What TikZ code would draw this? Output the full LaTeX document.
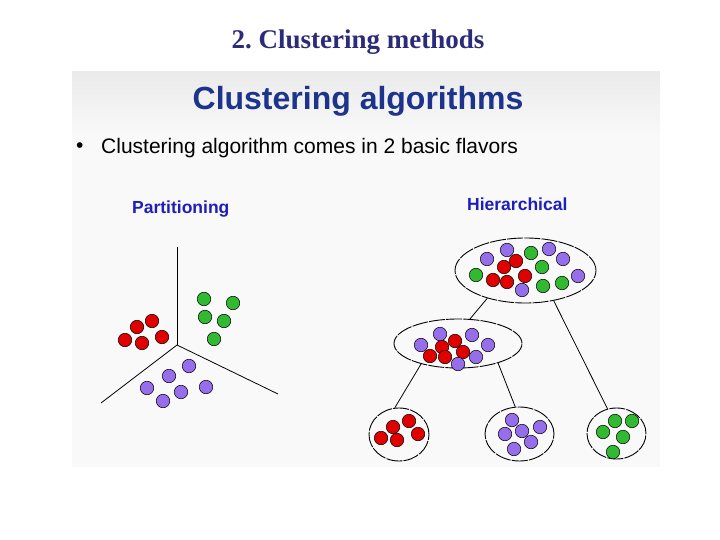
\documentclass[tikz,border=0pt]{standalone}
\usepackage{fontspec}
\setmainfont{Liberation Serif}
\newfontfamily\arialfont{Liberation Sans}
\usetikzlibrary{shapes.geometric}

\definecolor{titlenavy}{RGB}{43,43,122}
\definecolor{headblue}{RGB}{28,52,140}
\definecolor{labelblue}{RGB}{30,30,185}
\definecolor{dotred}{RGB}{225,0,0}
\definecolor{dotgreen}{RGB}{50,185,50}
\definecolor{dotpurple}{RGB}{150,110,235}

\begin{document}
\begin{tikzpicture}[
    x=1pt, y=-1pt,
    dot/.style={circle, draw=black, line width=0.5pt, minimum size=13.5pt, inner sep=0pt},
    rdot/.style={dot, fill=dotred},
    gdot/.style={dot, fill=dotgreen},
    pdot/.style={dot, fill=dotpurple},
    group/.style={ellipse, draw=black, line width=0.9pt, dash pattern=on 16pt off 1.2pt, inner sep=0pt},
    link/.style={line width=0.8pt},
    axis/.style={line width=0.8pt},
]
\useasboundingbox (0,0) rectangle (720,540);

% =============================================================================
% Page title and slide
% =============================================================================
\node[font=\bfseries\fontsize{27}{31}\selectfont, text=titlenavy] (title) at (358,42) {2.\ Clustering methods};

% --- Slide background ---
\fill[gray!5] (72,72) rectangle (660,467);
\shade[top color=gray!16, bottom color=gray!5] (72,72) rectangle (660,135);

\node[font=\arialfont\bfseries\fontsize{32}{36}\selectfont, text=headblue] (head) at (358,101) {Clustering algorithms};
\node[font=\arialfont\fontsize{21}{24}\selectfont, anchor=west, inner sep=0pt] (bullet) at (76,148) {\textbullet};
\node[font=\arialfont\fontsize{21}{24}\selectfont, anchor=west, inner sep=0pt] (flavors) at (101,148) {Clustering algorithm comes in 2 basic flavors};

% =============================================================================
% Partitioning
% =============================================================================
\node[font=\arialfont\bfseries\fontsize{17.5}{20}\selectfont, text=labelblue, anchor=west, inner sep=0pt] (part) at (132,209) {Partitioning};

% --- Axes ---
\coordinate (O) at (177,345);
\draw[axis] (O) -- (177,247);
\draw[axis] (O) -- (101,403);
\draw[axis] (O) -- (278,394);

% --- Clusters ---
\foreach \x/\y [count=\i] in {125/340, 137/327, 152/321, 162/337, 142/343}
    \node[rdot] (pr\i) at (\x,\y) {};
\foreach \x/\y [count=\i] in {204/299, 233/303, 205/317, 224/321, 214/339}
    \node[gdot] (pg\i) at (\x,\y) {};
\foreach \x/\y [count=\i] in {189/366, 169/376, 147/388, 181/392, 206/387, 163/401}
    \node[pdot] (pp\i) at (\x,\y) {};

% =============================================================================
% Hierarchical
% =============================================================================
\node[font=\arialfont\bfseries\fontsize{17.5}{20}\selectfont, text=labelblue, anchor=west, inner sep=0pt] (hier) at (467,204) {Hierarchical};

% --- Groups ---
\node[group, minimum width=141pt, minimum height=65pt] (all) at (525.5,270.5) {};
\node[group, minimum width=128pt, minimum height=49pt] (rp) at (458,343.5) {};
\node[group, minimum width=60pt, minimum height=53pt] (reds) at (399,434.5) {};
\node[group, minimum width=69pt, minimum height=54pt] (purples) at (519.5,434) {};
\node[group, minimum width=59pt, minimum height=51pt] (greens) at (616.5,433.5) {};

% --- Links ---
\draw[link] (all.216) -- (rp.64);
\draw[link] (all.-47) -- (greens.110);
\draw[link] (rp.209) -- (reds.99);
\draw[link] (rp.-26) -- (purples.99);

% --- Top group ---
\foreach \x/\y [count=\i] in {504/267, 516/261, 493/280, 507/282, 525/276}
    \node[rdot] (ar\i) at (\x,\y) {};
\foreach \x/\y [count=\i] in {476/275, 531/253, 542/267, 543/286, 562/283}
    \node[gdot] (ag\i) at (\x,\y) {};
\foreach \x/\y [count=\i] in {487/259, 507/250, 549/249, 563/259, 578/276, 522/290}
    \node[pdot] (ap\i) at (\x,\y) {};

% --- Middle group ---
\foreach \x/\y [count=\i] in {455/341, 442/347, 463/352, 430/356, 445/357}
    \node[rdot] (mr\i) at (\x,\y) {};
\foreach \x/\y [count=\i] in {440/334, 472/335, 421/345, 488/345, 476/357, 458/364}
    \node[pdot] (mp\i) at (\x,\y) {};

% --- Bottom groups ---
\foreach \x/\y [count=\i] in {409/421, 393/427, 381/438, 397/440, 418/434}
    \node[rdot] (br\i) at (\x,\y) {};
\foreach \x/\y [count=\i] in {512/420, 540/427, 522/431, 505/434, 531/442, 514/449}
    \node[pdot] (bp\i) at (\x,\y) {};
\foreach \x/\y [count=\i] in {615/421, 632/421, 603/432, 623/437, 613/452}
    \node[gdot] (bg\i) at (\x,\y) {};

\end{tikzpicture}
\end{document}
